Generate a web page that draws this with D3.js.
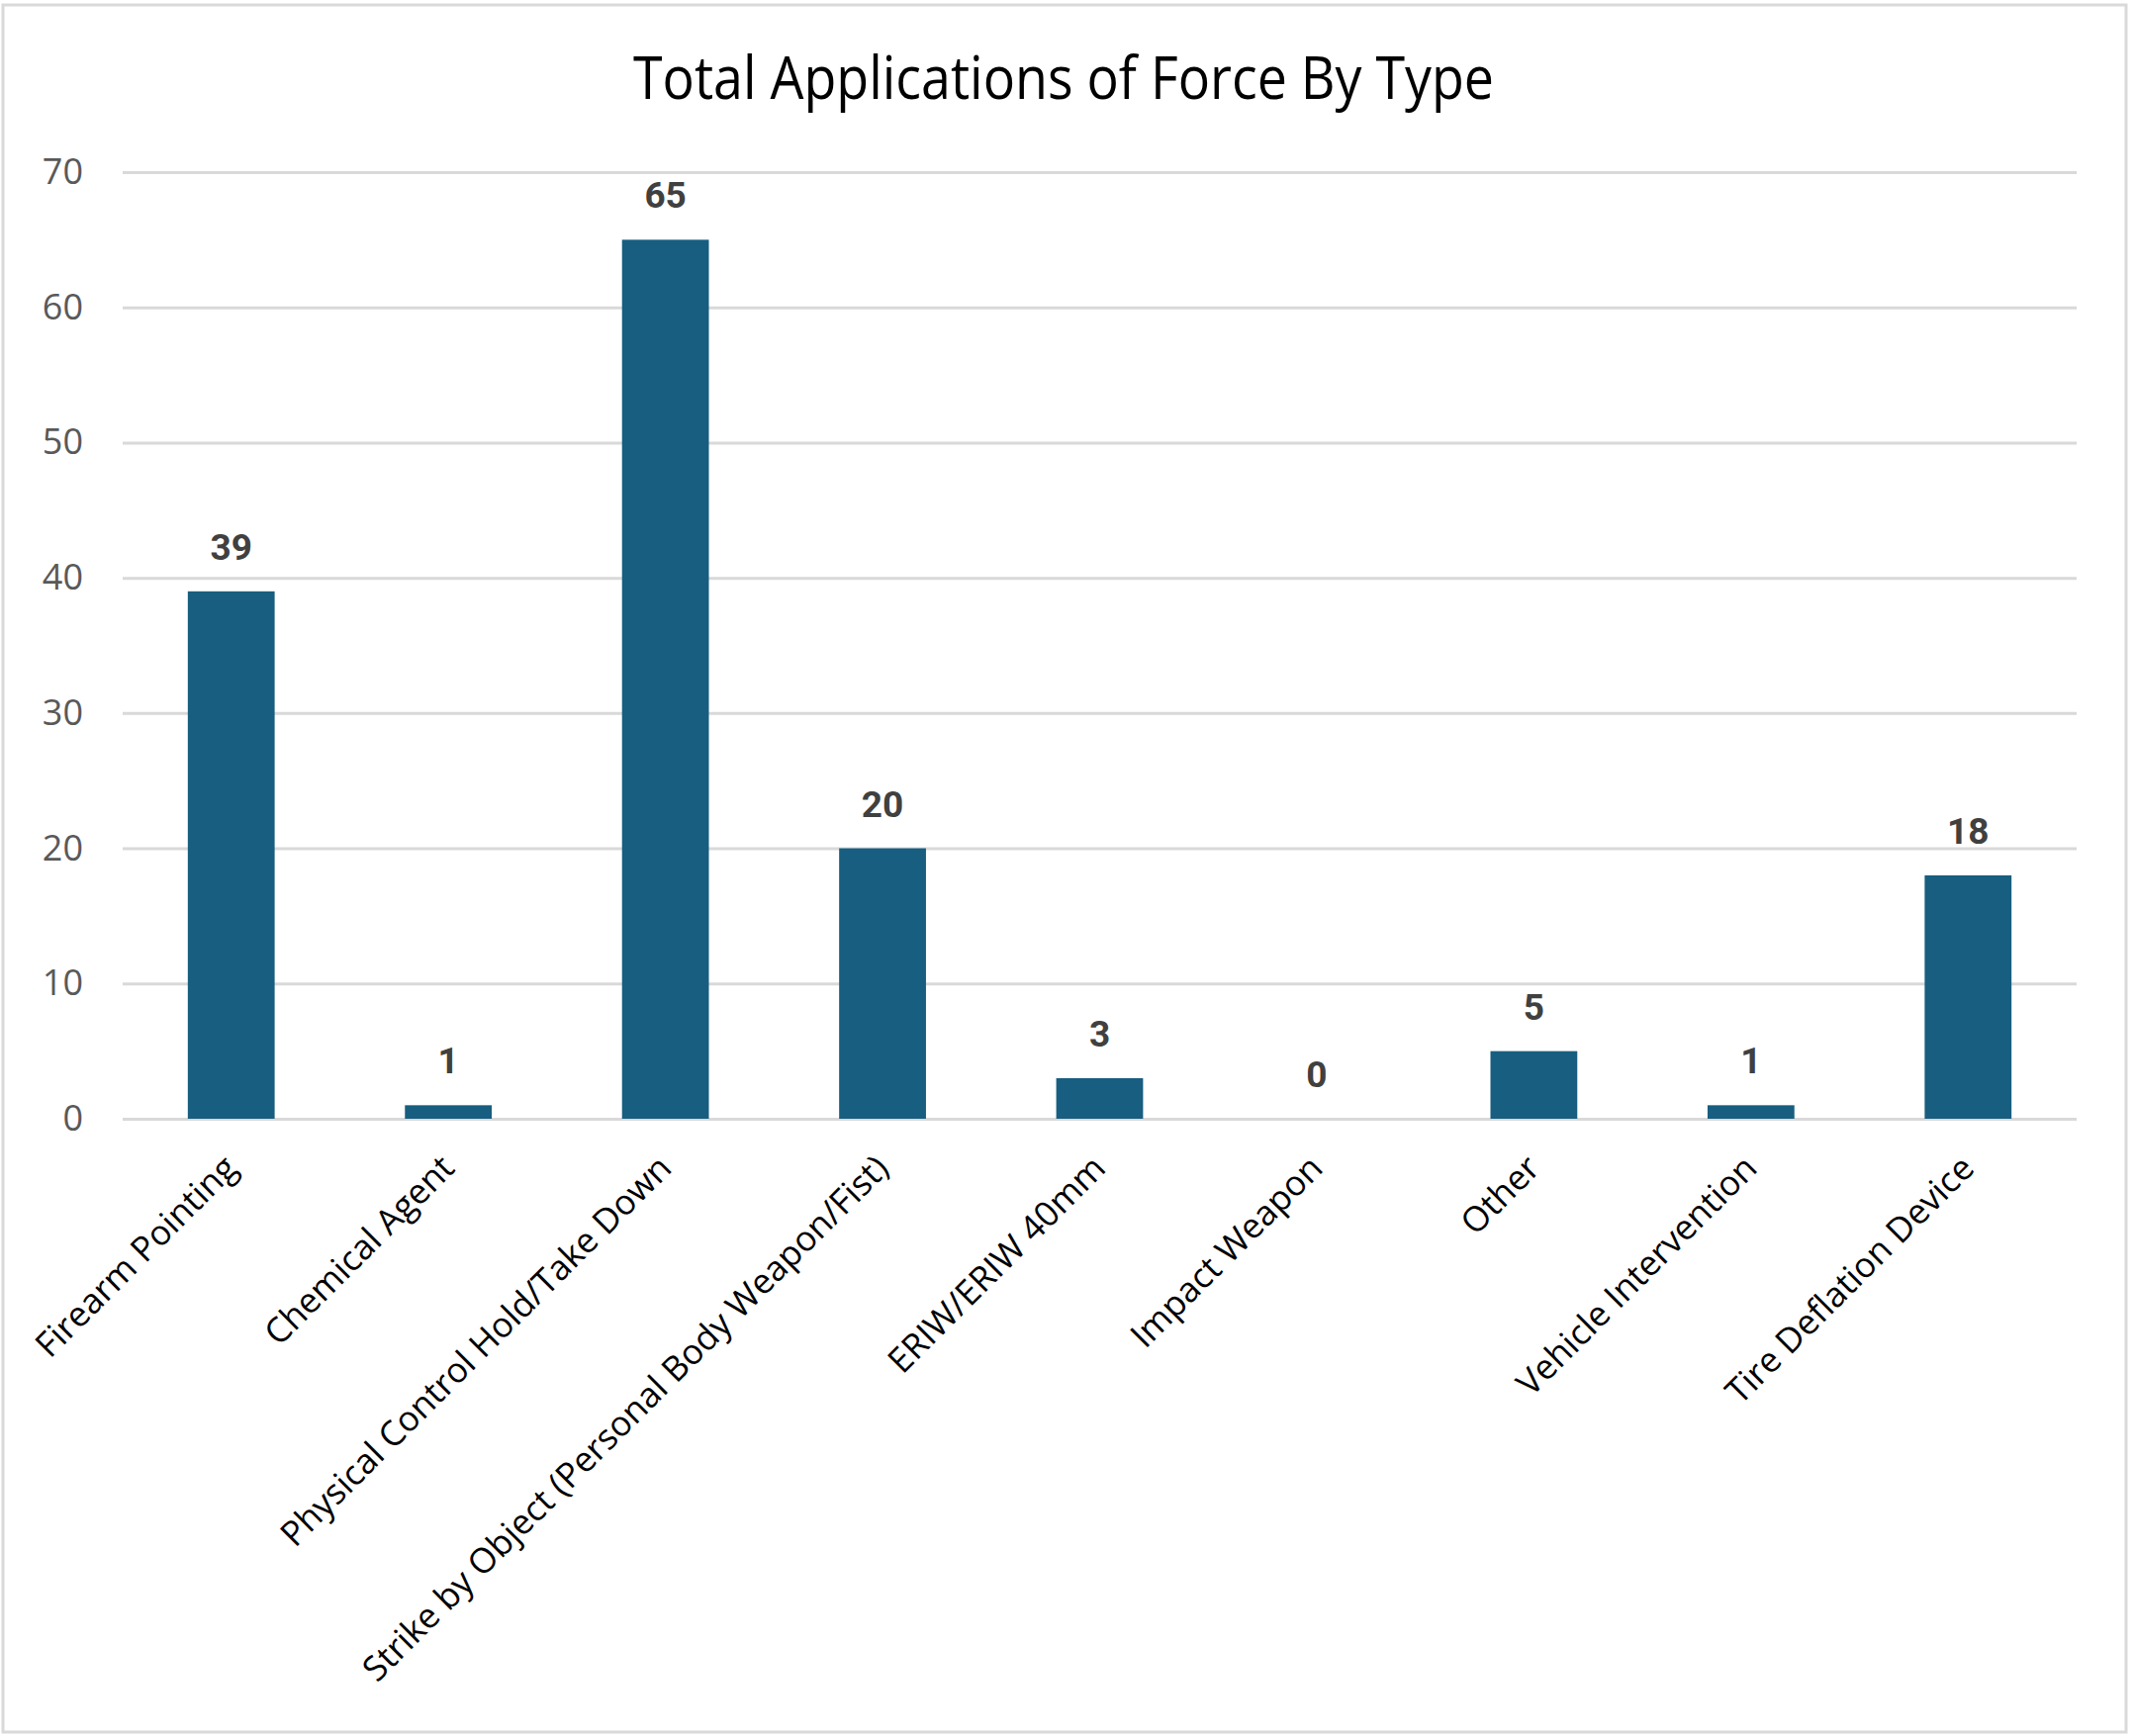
<!DOCTYPE html>
<html>
<head>
<meta charset="utf-8">
<script src="https://cdn.jsdelivr.net/npm/d3@7"></script>
<style>
  body { margin: 0; background: #fff; }
  svg { display: block; }
</style>
</head>
<body>
<svg id="chart" width="2158" height="1755"></svg>
<script>
// data
var categories = ["Firearm Pointing", "Chemical Agent", "Physical Control Hold/Take Down",
  "Strike by Object (Personal Body Weapon/Fist)", "ERIW/ERIW 40mm", "Impact Weapon",
  "Other", "Vehicle Intervention", "Tire Deflation Device"];
var counts = [39, 1, 65, 20, 3, 0, 5, 1, 18];
var yTicks = [0, 10, 20, 30, 40, 50, 60, 70];
var title = "Total Applications of Force By Type";

var svg = d3.select("#chart");
var plotLeft = 124, plotRight = 2099, plotTop = 174, plotBottom = 1131;

// chart frame
svg.append("rect")
  .attr("x", 3).attr("y", 5)
  .attr("width", 2146).attr("height", 1746)
  .attr("fill", "#fff")
  .attr("stroke", "#d9d9d9")
  .attr("stroke-width", 3);

svg.append("text")
  .attr("x", 1075).attr("y", 100)
  .attr("text-anchor", "middle")
  .attr("textLength", 870)
  .attr("lengthAdjust", "spacingAndGlyphs")
  .style("font-family", "'Liberation Sans Narrow', 'Open Sans', sans-serif")
  .style("font-size", "60px")
  .style("font-weight", "500")
  .style("fill", "#000")
  .text(title);

var x = d3.scaleBand()
  .domain(categories)
  .range([plotLeft, plotRight])
  .paddingInner(0.6)
  .paddingOuter(0.3);

var y = d3.scaleLinear()
  .domain([0, 70])
  .range([plotBottom, plotTop]);

// gridlines + y labels
var yAxis = svg.append("g")
  .attr("transform", "translate(" + plotLeft + ",0)")
  .call(d3.axisLeft(y).tickValues(yTicks).tickSize(-(plotRight - plotLeft)).tickPadding(40));
yAxis.select(".domain").remove();
yAxis.selectAll(".tick line")
  .attr("stroke", "#d9d9d9")
  .attr("stroke-width", 3);
yAxis.selectAll(".tick text")
  .style("font-family", "'Open Sans', sans-serif")
  .style("font-size", "36px")
  .style("fill", "#595959");

// bars
svg.selectAll(".bar")
  .data(counts)
  .enter()
  .append("rect")
  .attr("class", "bar")
  .attr("x", function(d, i){ return x(categories[i]); })
  .attr("y", function(d){ return y(d); })
  .attr("width", x.bandwidth())
  .attr("height", function(d){ return y(0) - y(d); })
  .style("fill", "#175e80");

// value labels
svg.selectAll(".val")
  .data(counts)
  .enter()
  .append("text")
  .attr("class", "val")
  .attr("x", function(d, i){ return x(categories[i]) + x.bandwidth()/2; })
  .attr("y", function(d){ return y(d) - 32; })
  .attr("text-anchor", "middle")
  .style("font-family", "Roboto, sans-serif")
  .style("font-weight", "bold")
  .style("font-size", "37px")
  .style("fill", "#404040")
  .text(function(d){ return d; });

// category labels, rotated
svg.selectAll(".cat")
  .data(categories)
  .enter()
  .append("text")
  .attr("class", "cat")
  .attr("transform", function(d){
    var cx = x(d) + x.bandwidth()/2 + 8;
    return "translate(" + cx + "," + (plotBottom + 52) + ") rotate(-45)";
  })
  .attr("text-anchor", "end")
  .style("font-family", "'Open Sans', sans-serif")
  .style("font-size", "35px")
  .style("fill", "#000")
  .text(function(d){ return d; });
</script>
</body>
</html>
